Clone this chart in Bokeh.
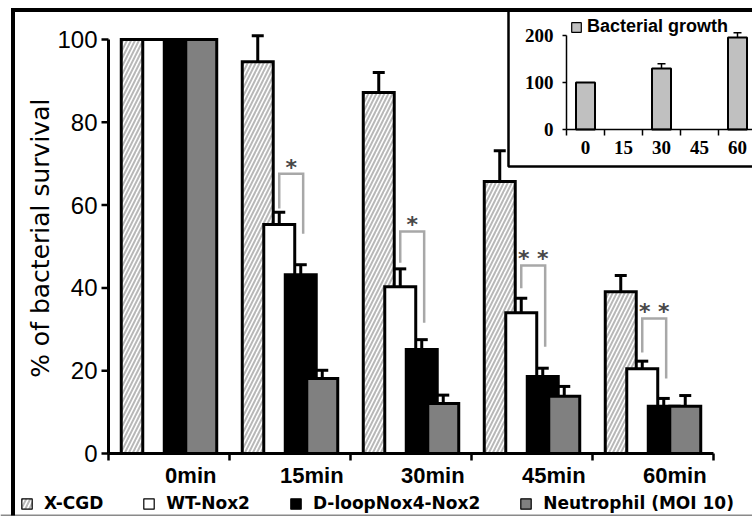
import numpy as np
from bokeh.plotting import figure
from bokeh.models import (ColumnDataSource, Range1d, Whisker, TeeHead, Legend, LegendItem,
                          BoxAnnotation)
from bokeh.core.properties import value
from bokeh.embed import file_html
from bokeh.resources import INLINE

# ---------------- data ----------------
times = ["0min", "15min", "30min", "45min", "60min"]
series = ["X-CGD", "WT-Nox2", "D-loopNox4-Nox2", "Neutrophil (MOI 10)"]
xcgd = [100, 94.6, 87.2, 65.7, 39.1]
xcgd_err = [0, 6.3, 4.8, 7.4, 3.9]
wt = [100, 55.3, 40.3, 34.0, 20.5]
wt_err = [0, 3.0, 4.3, 3.5, 1.8]
dloop = [100, 43.2, 25.1, 18.6, 11.4]
dloop_err = [0, 2.4, 2.4, 2.0, 1.9]
neut = [100, 18.1, 12.1, 13.8, 11.4]
neut_err = [0, 2.0, 2.0, 2.4, 2.6]
y_ticks = [0, 20, 40, 60, 80, 100]
y_label = "% of bacterial survival"

# significance brackets for 15, 30, 45, 60 min (WT-Nox2 vs D-loop)
sig_labels = ["*", "*", "* *", "* *"]
br_top = [67.6, 53.6, 45.4, 32.6]
br_left = [59.2, 46.1, 39.9, 24.4]
br_right = [53.1, 31.6, 25.8, 18.1]

# inset: bacterial growth
growth_label = "Bacterial growth"
growth_times = ["0", "15", "30", "45", "60"]
growth = [100, np.nan, 130, np.nan, 196]
growth_err = [0, np.nan, 10, np.nan, 10]
inset_y_ticks = [0, 100, 200]

# ---------------- layout (pixels) ----------------
W, H = 752, 519
FL, FB = 108, 453          # main plot origin (px from left / top)
CAT_PX, Y_PX = 121, 4.14   # px per category, px per % unit
IX_PX, IY_PX = 38, 0.47    # inset scales
IX_LEFT, IY_BOTTOM = 566, 129

def px_x(px):
    return (px - FL) / CAT_PX

def px_y(py):
    return (FB - py) / Y_PX

p = figure(width=W, height=H, output_backend="svg", toolbar_location=None, title=None,
           x_range=Range1d(px_x(0), px_x(W)), y_range=Range1d(px_y(H), px_y(0)),
           x_axis_type=None, y_axis_type=None,
           min_border_left=0, min_border_right=0, min_border_top=0, min_border_bottom=0)
p.outline_line_color = None
p.background_fill_color = "white"
p.border_fill_color = "white"

ix0 = -IX_LEFT / IX_PX
iy0 = -(H - IY_BOTTOM) / IY_PX
p.extra_x_ranges = {"ix": Range1d(ix0, ix0 + W / IX_PX)}
p.extra_y_ranges = {"iy": Range1d(iy0, iy0 + H / IY_PX)}

# inset panel background
p.add_layout(BoxAnnotation(left=508, right=W + 20, top=9, bottom=166,
                           left_units="canvas", right_units="canvas",
                           top_units="canvas", bottom_units="canvas",
                           fill_color="white", fill_alpha=1, line_color="black",
                           line_alpha=1, line_width=2.5, level="underlay"))

# outer frame lines (filled strips)
p.quad(left=[px_x(10.5), px_x(10.5)], right=[px_x(14.5), px_x(W + 5)],
       top=[px_y(7.5), px_y(7.5)], bottom=[px_y(515), px_y(11.5)],
       fill_color="black", line_color=None)
p.add_layout(BoxAnnotation(left=10.5, right=14.5, top=7.5, bottom=515,
                           left_units="canvas", right_units="canvas",
                           top_units="canvas", bottom_units="canvas",
                           fill_color="black", fill_alpha=1, line_alpha=0, level="overlay"))
p.quad(left=[px_x(0)], right=[px_x(W + 5)], top=[px_y(514)], bottom=[px_y(515.5)],
       fill_color="#8a8a8a", line_color=None)

# ---------------- main bars ----------------
centers = np.arange(len(times)) + 0.5
step, bw = 0.1777, 0.256
offsets = (np.arange(4) - 1.5) * step

vals = [xcgd, wt, dloop, neut]
errs = [xcgd_err, wt_err, dloop_err, neut_err]
styles = [
    dict(fill_color="white", hatch_pattern="/", hatch_color="#b8b8b8", hatch_scale=8, hatch_weight=2),
    dict(fill_color="white"),
    dict(fill_color="black"),
    dict(fill_color="#808080"),
]
for k in range(4):
    src = ColumnDataSource(dict(x=centers + offsets[k], top=vals[k]))
    p.vbar(x="x", top="top", width=bw, bottom=0, source=src, line_color="black",
           line_width=3, line_join="miter", **styles[k])

for k in range(4):
    v = np.array(vals[k], dtype=float)
    e = np.array(errs[k], dtype=float)
    m = e > 0
    esrc = ColumnDataSource(dict(x=(centers + offsets[k])[m], upper=(v + e)[m], lower=(v - e)[m]))
    p.add_layout(Whisker(source=esrc, base="x", upper="upper", lower="lower",
                         line_color="black", line_width=3,
                         upper_head=TeeHead(size=12, line_width=3, line_color="black"),
                         lower_head=TeeHead(size=12, line_width=3, line_color="black")))

# legend swatches (thin outline, as in the original key); one NaN row so they never draw
legend_renderers = []
for k in range(4):
    lr = p.vbar(x=[np.nan], top=[np.nan], width=bw, line_color="black", line_width=1.2, **styles[k])
    legend_renderers.append(lr)

# significance brackets
xs, ys = [], []
for i in range(4):
    j = i + 1
    xl = centers[j] + offsets[1]
    xr = centers[j] + offsets[2] + 0.02
    xs.append([xl, xl, xr, xr])
    ys.append([br_left[i], br_top[i], br_top[i], br_right[i]])
p.multi_line(xs=xs, ys=ys, line_color="#a8a8a8", line_width=2.5, line_join="miter")
p.text(x=[(a[0] + a[2]) / 2 for a in xs], y=[t + 1.6 for t in br_top], text=sig_labels,
       text_font=value("DejaVu Sans"), text_font_style="bold", text_font_size="22px",
       text_color="#484848", text_align="center", text_baseline="middle")

# ---------------- main axes (drawn in data space) ----------------
n = len(times)
ytick_len = 7 / CAT_PX
xtick_len = 7 / Y_PX
p.segment(x0=[0, 0], y0=[0, 0], x1=[0, n], y1=[max(y_ticks), 0],
          line_color="black", line_width=3)
p.segment(x0=[0] * len(y_ticks), y0=y_ticks, x1=[-ytick_len] * len(y_ticks), y1=y_ticks,
          line_color="black", line_width=2.5)
p.segment(x0=list(range(n + 1)), y0=[0] * (n + 1), x1=list(range(n + 1)), y1=[-xtick_len] * (n + 1),
          line_color="black", line_width=2.5)
p.text(x=[-11 / CAT_PX] * len(y_ticks), y=y_ticks, text=[str(t) for t in y_ticks],
       text_font=value("Liberation Sans"), text_font_size="24px", text_color="black",
       text_align="right", text_baseline="middle")
p.text(x=list(centers + 0.18), y=[-22 / Y_PX] * n, text=times,
       text_font=value("Liberation Sans"), text_font_style="bold", text_font_size="22px",
       text_color="black", text_align="center", text_baseline="middle")
p.text(x=[px_x(40)], y=[52], text=[y_label], angle=np.pi / 2,
       text_font=value("DejaVu Sans"), text_font_size="25px", text_color="black",
       text_align="center", text_baseline="middle")

legend = Legend(items=[LegendItem(label=s, renderers=[r]) for s, r in zip(series, legend_renderers)],
                orientation="horizontal", location=(20, 6),
                glyph_width=13, glyph_height=13, label_standoff=11, spacing=39,
                padding=0, margin=0, border_line_color=None, background_fill_alpha=0,
                label_text_font="DejaVu Sans", label_text_font_style="bold",
                label_text_font_size="17px", label_text_color="black")
p.add_layout(legend)

# ---------------- inset ----------------
gsrc = ColumnDataSource(dict(x=centers, top=growth))
p.vbar(x="x", top="top", width=0.5, bottom=0, source=gsrc, x_range_name="ix", y_range_name="iy",
       fill_color="#c0c0c0", line_color="black", line_width=2)
g = np.array(growth, dtype=float)
ge = np.array(growth_err, dtype=float)
gm = np.nan_to_num(ge) > 0
p.add_layout(Whisker(source=ColumnDataSource(dict(x=centers[gm], upper=(g + ge)[gm], lower=(g - ge)[gm])),
                     base="x", upper="upper", lower="lower", x_range_name="ix", y_range_name="iy",
                     line_color="black", line_width=1.5,
                     upper_head=TeeHead(size=8, line_width=1.5, line_color="black"),
                     lower_head=TeeHead(size=8, line_width=1.5, line_color="black")))
g_legend_r = p.vbar(x=[np.nan], top=[np.nan], width=0.5, x_range_name="ix", y_range_name="iy",
                    fill_color="#c0c0c0", line_color="black", line_width=1.2)

ni = len(growth_times)
iytk_len = 4 / IX_PX
ixtk_len = 6 / IY_PX
p.segment(x0=[0, 0], y0=[0, 0], x1=[0, ni], y1=[max(inset_y_ticks), 0],
          x_range_name="ix", y_range_name="iy", line_color="black", line_width=1.5)
p.segment(x0=[0] * len(inset_y_ticks), y0=inset_y_ticks, x1=[-iytk_len] * len(inset_y_ticks),
          y1=inset_y_ticks, x_range_name="ix", y_range_name="iy", line_color="black", line_width=1.5)
p.segment(x0=list(range(ni + 1)), y0=[0] * (ni + 1), x1=list(range(ni + 1)), y1=[-ixtk_len] * (ni + 1),
          x_range_name="ix", y_range_name="iy", line_color="black", line_width=1.5)
p.text(x=[-13 / IX_PX] * len(inset_y_ticks), y=inset_y_ticks, text=[str(t) for t in inset_y_ticks],
       x_range_name="ix", y_range_name="iy", text_font=value("Liberation Serif"),
       text_font_style="bold", text_font_size="19px", text_align="right", text_baseline="middle",
       text_color="black")
p.text(x=list(centers), y=[-18 / IY_PX] * ni, text=growth_times,
       x_range_name="ix", y_range_name="iy", text_font=value("Liberation Serif"),
       text_font_style="bold", text_font_size="19px", text_align="center", text_baseline="middle",
       text_color="black")

ilegend = Legend(items=[LegendItem(label=growth_label, renderers=[g_legend_r])],
                 location=(570, 482), glyph_width=12, glyph_height=12, label_standoff=5,
                 padding=0, margin=0, border_line_color=None, background_fill_alpha=0,
                 label_text_font="Liberation Sans", label_text_font_style="bold",
                 label_text_font_size="18px", label_text_color="black")
p.add_layout(ilegend)

open("out.html", "w").write(file_html(p, INLINE))
